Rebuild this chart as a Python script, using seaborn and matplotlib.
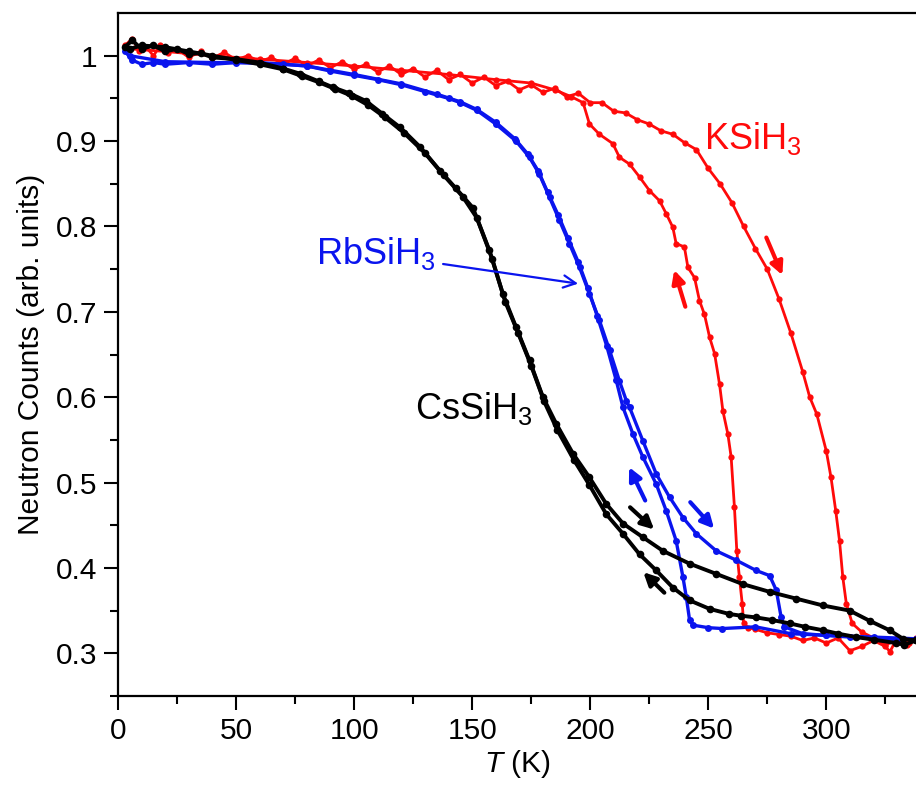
import numpy as np
import pandas as pd
import seaborn as sns
import matplotlib.pyplot as plt

# KSiH3 (red)
k_warm_T = [3, 6, 9, 12, 15, 18, 21, 25, 30, 35, 40, 45, 50, 55, 60, 65, 70, 75, 80, 85, 90, 95,
            100, 105, 110, 115, 120, 125, 130, 135, 140, 145, 150, 155, 160, 165, 170, 175, 180,
            185, 190, 195, 200, 205, 210, 215, 220, 225, 230, 235, 240, 245, 250, 255, 260, 265,
            270, 275, 280, 285, 290, 293, 296, 300, 302, 304, 305.6, 307, 308.5, 311, 315, 320,
            325, 330, 335, 338]
k_warm_C = [1.012, 1.02, 1.005, 1.01, 1.0, 1.012, 1.003, 1.008, 0.998, 1.005, 0.997, 1.004, 0.995,
            1.0, 0.993, 0.998, 0.99, 0.997, 0.988, 0.995, 0.986, 0.993, 0.984, 0.99, 0.981, 0.988,
            0.978, 0.985, 0.975, 0.983, 0.972, 0.978, 0.968, 0.975, 0.965, 0.97, 0.96, 0.966, 0.957,
            0.962, 0.952, 0.956, 0.945, 0.945, 0.935, 0.933, 0.925, 0.92, 0.912, 0.908, 0.898, 0.89,
            0.868, 0.85, 0.828, 0.8, 0.774, 0.75, 0.715, 0.675, 0.63, 0.6, 0.58, 0.537, 0.506,
            0.467, 0.432, 0.389, 0.358, 0.335, 0.325, 0.318, 0.31, 0.315, 0.312, 0.318]
k_cool_T = [338, 334, 330, 327, 325, 320, 315, 310, 305, 300, 295, 290, 285, 280, 275, 270, 267,
            265, 264.4, 263.2, 262.1, 261.1, 259.7, 258.3, 256.2, 254.8, 252.7, 250.6, 248.4,
            246.3, 244.2, 241.4, 239.9, 236.4, 235, 232.2, 229.4, 225.1, 220.9, 216.7, 212.4,
            209.6, 203.9, 199.7, 197, 192, 185, 175, 160, 140, 120, 100, 80, 60, 40, 20, 5]
k_cool_C = [0.316, 0.31, 0.318, 0.302, 0.308, 0.315, 0.308, 0.303, 0.318, 0.312, 0.318, 0.315,
            0.32, 0.322, 0.324, 0.328, 0.33, 0.335, 0.358, 0.389, 0.42, 0.471, 0.53, 0.557, 0.584,
            0.615, 0.651, 0.67, 0.697, 0.713, 0.74, 0.752, 0.776, 0.78, 0.799, 0.815, 0.83, 0.842,
            0.858, 0.873, 0.881, 0.897, 0.908, 0.92, 0.945, 0.952, 0.96, 0.968, 0.972, 0.978,
            0.983, 0.988, 0.992, 0.996, 1.0, 1.005, 1.008]

# RbSiH3 (blue)
rb_warm_T = [3, 6, 10, 15, 20, 30, 40, 50, 60, 70, 80, 90, 100, 110, 120, 130, 140, 145, 152, 160,
             168.6, 174.3, 178.5, 182.8, 187, 191.2, 195.5, 199.7, 203.9, 208.2, 212.4, 215.3,
             216.7, 222.3, 228, 233.6, 239.3, 245, 253.4, 261.9, 270.3, 276, 278.8, 280.9, 282.3,
             290, 300, 310, 320, 330, 338]
rb_warm_C = [1.005, 0.995, 0.99, 0.992, 0.99, 0.992, 0.99, 0.992, 0.991, 0.99, 0.988, 0.982, 0.977,
             0.972, 0.966, 0.958, 0.95, 0.945, 0.936, 0.92, 0.9, 0.881, 0.861, 0.834, 0.807, 0.78,
             0.752, 0.721, 0.69, 0.655, 0.619, 0.596, 0.588, 0.549, 0.51, 0.483, 0.459, 0.44, 0.42,
             0.409, 0.397, 0.391, 0.374, 0.342, 0.331, 0.323, 0.321, 0.319, 0.318, 0.316, 0.317]
rb_cool_T = [338, 320, 300, 285, 270, 256, 250, 243.5, 242.1, 240.7, 239.3, 236.4, 232.2, 228,
             222.3, 218.1, 213.9, 211, 207, 203, 199, 195, 190.5, 186.5, 182, 178, 173.5, 168,
             160, 152, 145, 135, 120, 100, 80, 60, 40, 20, 5]
rb_cool_C = [0.317, 0.319, 0.321, 0.323, 0.331, 0.329, 0.33, 0.333, 0.339, 0.366, 0.389, 0.432,
             0.467, 0.498, 0.53, 0.557, 0.588, 0.62, 0.66, 0.695, 0.728, 0.758, 0.787, 0.813, 0.84,
             0.865, 0.885, 0.903, 0.922, 0.937, 0.946, 0.955, 0.967, 0.978, 0.988, 0.992, 0.992,
             0.993, 1.0]

# CsSiH3 (black)
cs_warm_T = [3, 6, 10, 15, 20, 25, 30, 35, 40, 50, 60, 70, 77, 85, 91, 98, 105, 112, 119.5, 128,
             136.4, 143, 150.3, 157.3, 163, 168.6, 174.3, 180, 185.6, 192.7, 199.7, 206.8, 213.9,
             222.3, 230.8, 242.1, 253.4, 264.7, 276, 287.3, 298.6, 309.9, 318.4, 326.8, 332.5, 338]
cs_warm_C = [1.01, 1.018, 1.008, 1.012, 1.005, 1.008, 1.002, 1.003, 0.998, 0.996, 0.992, 0.985,
             0.979, 0.97, 0.963, 0.956, 0.947, 0.932, 0.916, 0.893, 0.865, 0.845, 0.822, 0.772,
             0.721, 0.682, 0.643, 0.6, 0.569, 0.534, 0.506, 0.475, 0.452, 0.436, 0.42, 0.405,
             0.393, 0.381, 0.372, 0.364, 0.356, 0.35, 0.338, 0.327, 0.317, 0.315]
cs_cool_T = [338, 333, 329.7, 320, 312.7, 305, 298.6, 291, 284.5, 277, 270.3, 264, 259, 250.6,
             242.1, 235, 228, 220.9, 213.9, 206.8, 199.7, 193, 186, 180.5, 175, 169.5, 164, 158.5,
             152, 146, 138, 130, 121, 113, 106, 99, 92, 85, 78, 70, 60, 50, 40, 30, 20, 10, 5]
cs_cool_C = [0.315, 0.31, 0.312, 0.316, 0.319, 0.323, 0.327, 0.331, 0.335, 0.339, 0.342, 0.344,
             0.346, 0.352, 0.362, 0.377, 0.397, 0.416, 0.44, 0.463, 0.497, 0.527, 0.562, 0.595,
             0.637, 0.675, 0.712, 0.762, 0.81, 0.835, 0.86, 0.886, 0.91, 0.928, 0.942, 0.953,
             0.961, 0.969, 0.976, 0.984, 0.99, 0.995, 1.0, 1.005, 1.01, 1.012, 1.008]

x_ticks = [0, 50, 100, 150, 200, 250, 300]
y_ticks = [0.3, 0.4, 0.5, 0.6, 0.7, 0.8, 0.9, 1.0]
y_tick_labels = ["0.3", "0.4", "0.5", "0.6", "0.7", "0.8", "0.9", "1"]

sns.set_theme(style="ticks")
plt.rcParams["font.family"] = ["Liberation Sans", "DejaVu Sans"]
plt.rcParams["mathtext.fontset"] = "custom"
plt.rcParams["mathtext.rm"] = "Liberation Sans"
plt.rcParams["mathtext.it"] = "Liberation Sans:italic"
for key in ["text.color", "axes.labelcolor", "xtick.color", "ytick.color", "axes.edgecolor"]:
    plt.rcParams[key] = "black"

fig = plt.figure(figsize=(9.16, 7.85), dpi=100)
ax = fig.add_axes([0.1288, 0.1134, 0.8712, 0.87])

RED, BLUE, BLACK = "#ff0a0a", "#0a14ee", "#000000"
curves = [
    (k_warm_T, k_warm_C, RED, 4.5, 2.0), (k_cool_T, k_cool_C, RED, 4.5, 2.0),
    (rb_warm_T, rb_warm_C, BLUE, 5, 2.4), (rb_cool_T, rb_cool_C, BLUE, 5, 2.4),
    (cs_warm_T, cs_warm_C, BLACK, 5.5, 2.8), (cs_cool_T, cs_cool_C, BLACK, 5.5, 2.8),
]
for T, C, col, ms, lw in curves:
    sns.lineplot(x=T, y=C, sort=False, color=col, marker="o", markersize=ms,
                 markeredgewidth=0, linewidth=lw, ax=ax)

ax.set_xlim(0, 338)
ax.set_ylim(0.25, 1.05)
ax.set_xticks(x_ticks)
ax.set_yticks(y_ticks)
ax.set_yticklabels(y_tick_labels)
ax.set_xticks(np.arange(25, 338, 50), minor=True)
ax.set_yticks(np.arange(0.25, 1.05, 0.1), minor=True)
ax.tick_params(which="major", direction="out", length=10, width=1.5, labelsize=21.5, pad=5)
ax.tick_params(which="minor", direction="out", length=6, width=1.5)
for s in ["left", "bottom", "top"]:
    ax.spines[s].set_linewidth(1.6)
ax.spines["right"].set_visible(False)

ax.set_xlabel(r"$T$ (K)", fontsize=21.5, labelpad=2)
ax.set_ylabel("Neutron Counts (arb. units)", fontsize=21.5, labelpad=8)

ax.text(248.3, 0.891, r"KSiH$_\mathregular{3}$", color=RED, fontsize=26)
ax.text(83.9, 0.756, r"RbSiH$_\mathregular{3}$", color=BLUE, fontsize=26)
ax.text(125.8, 0.575, r"CsSiH$_\mathregular{3}$", color=BLACK, fontsize=26)

ax.annotate("", xy=(194.9, 0.733), xytext=(137.7, 0.756),
            arrowprops=dict(arrowstyle="->", color=BLUE, lw=1.6, mutation_scale=22,
                            shrinkA=0, shrinkB=0))

small_arrows = [
    ((274.6, 0.787), (281.4, 0.743), RED),
    ((240.3, 0.706), (235.6, 0.749), RED),
    ((223.3, 0.479), (216.5, 0.518), BLUE),
    ((242.4, 0.477), (252.5, 0.446), BLUE),
    ((216.9, 0.471), (227.1, 0.445), BLACK),
    ((231.4, 0.371), (222.5, 0.395), BLACK),
]
for start, end, col in small_arrows:
    ax.annotate("", xy=end, xytext=start,
                arrowprops=dict(arrowstyle="-|>", color=col, lw=3.0, mutation_scale=19,
                                shrinkA=0, shrinkB=0))

fig.savefig("out.png", dpi=100)
